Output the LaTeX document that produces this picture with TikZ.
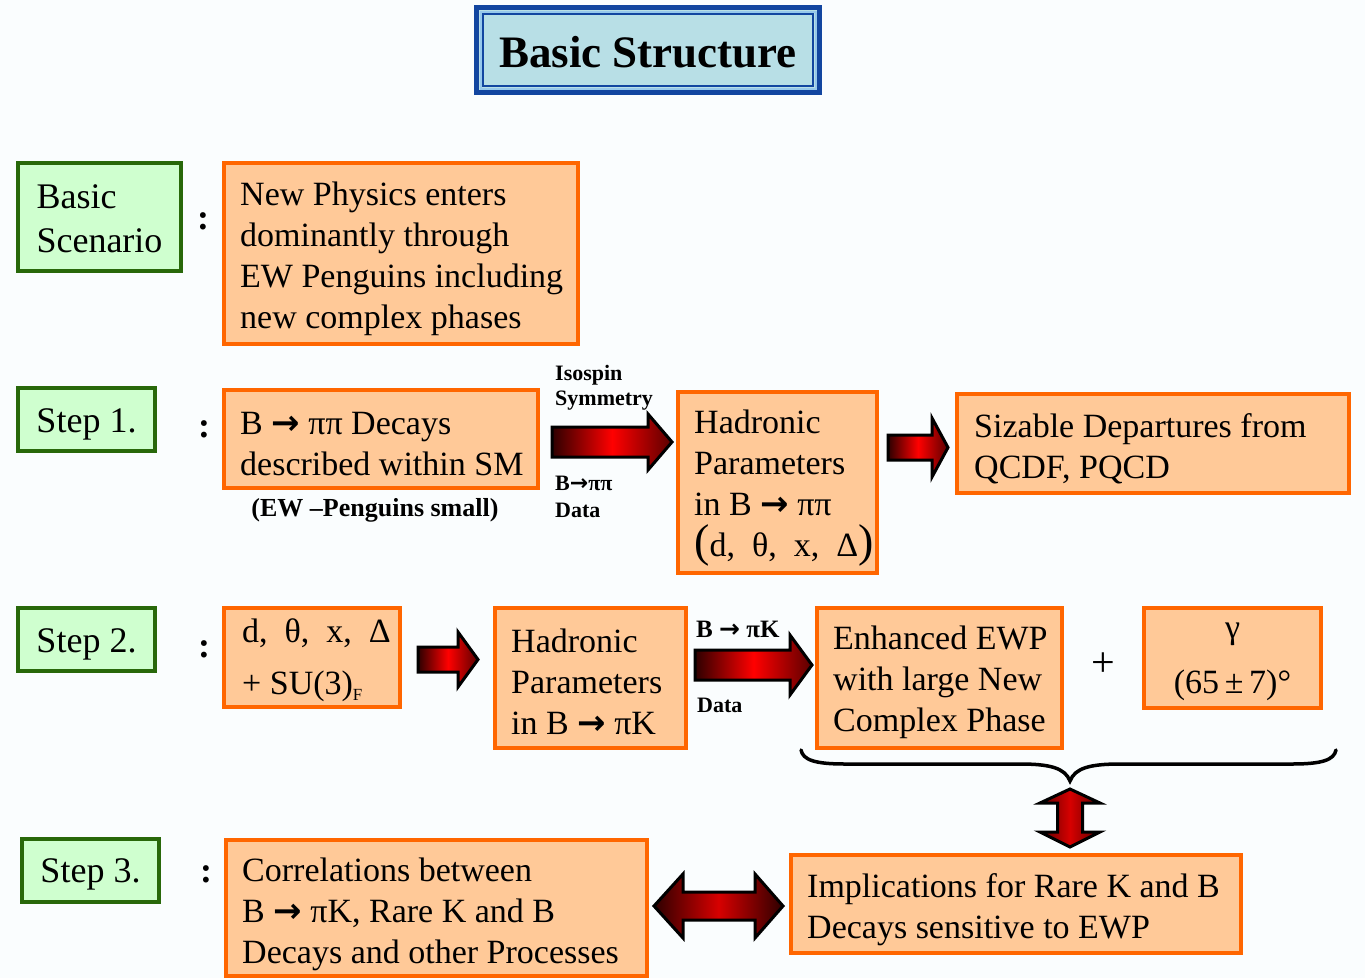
\documentclass[tikz,border=0pt]{standalone}
\usepackage{fontspec}
\setmainfont{Liberation Serif}
\newfontfamily\arrfont{DejaVu Sans}
\newcommand\bigfont{\fontsize{34}{41}\selectfont}
\newcommand\grfont{\fontsize{36}{44}\selectfont}
\newcommand\lblfont{\fontsize{22}{27}\selectfont\bfseries}
\newcommand\arr{{\arrfont\bfseries →}}
\definecolor{obord}{RGB}{255,102,0}
\definecolor{ofill}{RGB}{255,201,152}
\definecolor{gbord}{RGB}{40,104,10}
\definecolor{gfill}{RGB}{207,255,207}
\definecolor{tfill}{RGB}{184,223,230}
\definecolor{tdark}{RGB}{18,70,160}
\definecolor{tlight}{RGB}{150,200,235}
\definecolor{bgc}{RGB}{250,253,254}
\definecolor{dkred}{RGB}{45,0,0}
\definecolor{mdred}{RGB}{90,0,0}
\definecolor{brred}{RGB}{255,0,0}
\definecolor{vred}{RGB}{215,0,0}
\tikzset{
  obox/.style={draw=obord, fill=ofill, line width=4pt, rectangle, inner sep=0pt, outer sep=0pt},
  gbox/.style={draw=gbord, fill=gfill, line width=4pt, rectangle, inner sep=0pt, outer sep=0pt},
  gtxt/.style={font=\grfont, align=left, inner sep=0pt},
  txt/.style={font=\bigfont, align=left, inner sep=0pt, anchor=west},
  lbl/.style={font=\lblfont, inner sep=0pt, anchor=west},
  colon/.style={font=\fontsize{36}{36}\selectfont\bfseries, inner sep=0pt},
  fatarrow/.style={draw=black, line width=3pt, line join=miter, left color=dkred, right color=mdred, middle color=brred},
  dblarrow/.style={draw=black, line width=3pt, line join=miter, left color=dkred, right color=dkred, middle color=vred},
  vdblarrow/.style={draw=black, line width=3pt, line join=miter, left color=mdred, right color=mdred, middle color=vred},
}
\begin{document}
\begin{tikzpicture}[x=1pt,y=-1pt]
\useasboundingbox (0,0) rectangle (1365,978);
\fill[bgc] (0,0) rectangle (1365,978);

% title
\fill[tfill] (476,7) rectangle (820,93);
\draw[tdark, line width=5pt] (476.5,7.5) rectangle (819.5,92.5);
\draw[tlight, line width=2pt] (480.5,11.5) rectangle (815.5,88.5);
\draw[tdark, line width=2.5pt] (483,13.8) rectangle (813,86.2);
\node[font=\fontsize{45}{45}\selectfont\bfseries, inner sep=0pt] (title) at (648,52) {Basic Structure};

% green boxes
\node[gbox, minimum width=163pt, minimum height=108pt] (bs) at (99.5,217) {};
\node[gtxt] (bsT) at ([yshift=-2pt]bs.center) {Basic\\Scenario};
\node[gbox, minimum width=137pt, minimum height=63pt] (st1) at (86.5,419.5) {};
\node[gtxt] (st1T) at ([yshift=-5pt]st1.center) {Step 1.};
\node[gbox, minimum width=137pt, minimum height=63pt] (st2) at (86.5,639.5) {};
\node[gtxt] (st2T) at ([yshift=-5pt]st2.center) {Step 2.};
\node[gbox, minimum width=137pt, minimum height=63pt] (st3) at (90.5,870.5) {};
\node[gtxt] (st3T) at ([yshift=-4pt]st3.center) {Step 3.};

% colons
\node[colon] (c0) at (203,221) {:};
\node[colon] (c1) at (204,429) {:};
\node[colon] (c2) at (204,649) {:};
\node[colon] (c3) at (206,874) {:};

% orange boxes
\node[obox, minimum width=354pt, minimum height=181pt] (np) at (401,253.5) {};
\node[txt] (npT) at ([xshift=16pt,yshift=-5pt]np.west) {New Physics enters\\dominantly through\\EW Penguins including\\new complex phases};

\node[obox, minimum width=314pt, minimum height=98pt] (s1) at (381,439) {};
\node[txt] (s1T) at ([xshift=16pt,yshift=-5pt]s1.west) {B \arr\ ππ Decays\\described within SM};
\node[font=\fontsize{26}{30}\selectfont\bfseries, inner sep=0pt] (ewp) at (375,510) {(EW –Penguins small)};

\node[obox, minimum width=199pt, minimum height=181pt] (h1) at (777.5,482.5) {};
\node[txt] (h1T) at ([xshift=16pt,yshift=-6pt]h1.west) {Hadronic\\Parameters\\in B \arr\ ππ\\{\fontsize{46}{41}\selectfont(}d,\ \ θ,\ \ x,\ \ Δ{\fontsize{46}{41}\selectfont)}};

\node[obox, minimum width=392pt, minimum height=99pt] (siz) at (1153,443.5) {};
\node[txt] (sizT) at ([xshift=17pt,yshift=-5pt]siz.west) {Sizable Departures from\\QCDF, PQCD};

\node[obox, minimum width=176pt, minimum height=99pt] (dt) at (312,657.5) {};
\node[txt] (dtT) at ([xshift=18pt,yshift=-3pt]dt.west) {d,\ \ θ,\ \ x,\ \ Δ\\[11pt]+ SU(3)\raisebox{-6pt}{\fontsize{17}{17}\selectfont F}};

\node[obox, minimum width=191pt, minimum height=140pt] (h2) at (590.5,678) {};
\node[txt] (h2T) at ([xshift=16pt,yshift=-4pt]h2.west) {Hadronic\\Parameters\\in B \arr\ πK};

\node[obox, minimum width=245pt, minimum height=140pt] (enh) at (939.5,678) {};
\node[txt] (enhT) at ([xshift=16pt,yshift=-4pt]enh.west) {Enhanced EWP\\with large New\\Complex Phase};

\node[font=\fontsize{42}{42}\selectfont, inner sep=0pt] (plus) at (1103,665) {+};

\node[obox, minimum width=177pt, minimum height=100pt] (gam) at (1232.5,658) {};
\node[font=\bigfont, align=center, inner sep=0pt] (gamT) at ([yshift=-4pt]gam.center) {γ\\[14pt](65\,±\,7)°};

\node[obox, minimum width=421pt, minimum height=136pt] (corr) at (436.5,908) {};
\node[txt] (corrT) at ([xshift=16pt,yshift=-6pt]corr.west) {Correlations between\\B \arr\ πK, Rare K and B\\Decays and other Processes};

\node[obox, minimum width=450pt, minimum height=98pt] (impl) at (1016,904) {};
\node[txt] (implT) at ([xshift=16pt,yshift=-6pt]impl.west) {Implications for Rare K and B\\Decays sensitive to EWP};

% arrow labels
\node[lbl] (iso) at (555,375) {Isospin};
\node[lbl] (sym) at (555,401) {Symmetry};
\node[lbl] (bpp) at (555,483) {B\arr ππ};
\node[lbl] (dat1) at (555,510) {Data};
\node[font=\fontsize{25}{30}\selectfont\bfseries, inner sep=0pt, anchor=west] (bpk) at (696,629) {B \arr\ πK};
\node[lbl] (dat2) at (697,705) {Data};

% block arrows
\path[fatarrow] (552,427) -- (648,427) -- (648,414) -- (672,442) -- (648,470) -- (648,457) -- (552,457) -- cycle;
\path[fatarrow] (888,435) -- (932,435) -- (932,418) -- (948,447.5) -- (932,477) -- (932,460) -- (888,460) -- cycle;
\path[fatarrow] (418,647) -- (458,647) -- (458,632) -- (478,659.5) -- (458,687) -- (458,672) -- (418,672) -- cycle;
\path[fatarrow] (695,650) -- (790,650) -- (790,635) -- (812,665) -- (790,695) -- (790,680) -- (695,680) -- cycle;
\path[dblarrow] (654,906) -- (683,874) -- (683,892) -- (755,892) -- (755,874) -- (783,906) -- (755,938) -- (755,920) -- (683,920) -- (683,938) -- cycle;
\path[vdblarrow] (1070,789) -- (1100,803) -- (1082.5,803) -- (1082.5,832) -- (1100,832) -- (1070,847) -- (1040,832) -- (1057.5,832) -- (1057.5,803) -- (1040,803) -- cycle;

% brace
\coordinate (bl) at (801,750);
\coordinate (br) at (1336,750);
\coordinate (bt) at (1070,781);
\draw[line width=3.5pt, line cap=round]
  (bl) .. controls (803,760) and (815,764) .. (845,764)
  -- (1020,764) .. controls (1050,764) and (1065,768) .. (bt)
  .. controls (1075,768) and (1090,764) .. (1120,764)
  -- (1292,764) .. controls (1322,764) and (1334,760) .. (br);
\end{tikzpicture}
\end{document}
